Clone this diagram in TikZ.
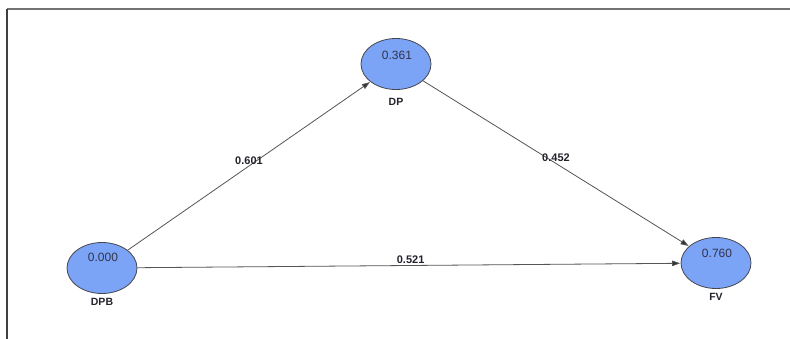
\documentclass[tikz,border=0pt]{standalone}
\usepackage{fontspec}
\setmainfont{Liberation Sans}
\usetikzlibrary{shapes.geometric,arrows.meta}
\definecolor{lvfill}{RGB}{123,164,246}
\definecolor{lvdraw}{RGB}{70,70,80}
\definecolor{valtxt}{RGB}{50,50,75}
\definecolor{edgecol}{RGB}{85,85,85}
\definecolor{lbltxt}{RGB}{35,35,45}
\tikzset{
  lv/.style={ellipse, draw=lvdraw, line width=0.8pt, fill=lvfill, minimum width=70pt, minimum height=51pt, inner sep=0pt},
  valtext/.style={font=\fontsize{12}{13}\selectfont, text=valtxt, inner sep=0pt},
  nametext/.style={font=\fontsize{10.5}{12}\selectfont\bfseries, text=lbltxt, inner sep=0pt},
  edge/.style={draw=edgecol, line width=0.8pt, -{Triangle[length=8pt,width=5.5pt,fill=black!80]}, shorten >=0.5pt},
  lbl/.style={font=\fontsize{11}{12}\selectfont\bfseries, text=lbltxt, inner sep=0pt}
}
\begin{document}
\begin{tikzpicture}[x=1pt,y=-1pt]
\useasboundingbox (0,0) rectangle (790,339);
\fill[white] (0,0) rectangle (790,339);
\draw[draw=gray!110, line width=1.8pt] (7,9) -- (790,9);
\draw[draw=black!75, line width=1.4pt] (7,9) -- (7,339);
\node[lv] (dpb) at (102,268) {};
\node[lv] (dp) at (396,64) {};
\node[lv] (fv) at (716,263) {};
\node[valtext] (dpbv) at (103,257) {0.000};
\node[valtext] (dpv) at (397,55) {0.361};
\node[valtext] (fvv) at (717,253) {0.760};
\node[nametext] (dpbn) at (102,302) {DPB};
\node[nametext] (dpn) at (396,102) {DP};
\node[nametext] (fvn) at (716,297) {FV};
\draw[edge] (dpb) -- node[lbl, pos=0.5, yshift=5pt] (l1) {0.601} (dp);
\draw[edge] (dp) -- node[lbl, pos=0.5, yshift=6pt] (l2) {0.452} (fv);
\draw[edge] (dpb) -- node[lbl, pos=0.503, yshift=6pt] (l3) {0.521} (fv);
\end{tikzpicture}
\end{document}
